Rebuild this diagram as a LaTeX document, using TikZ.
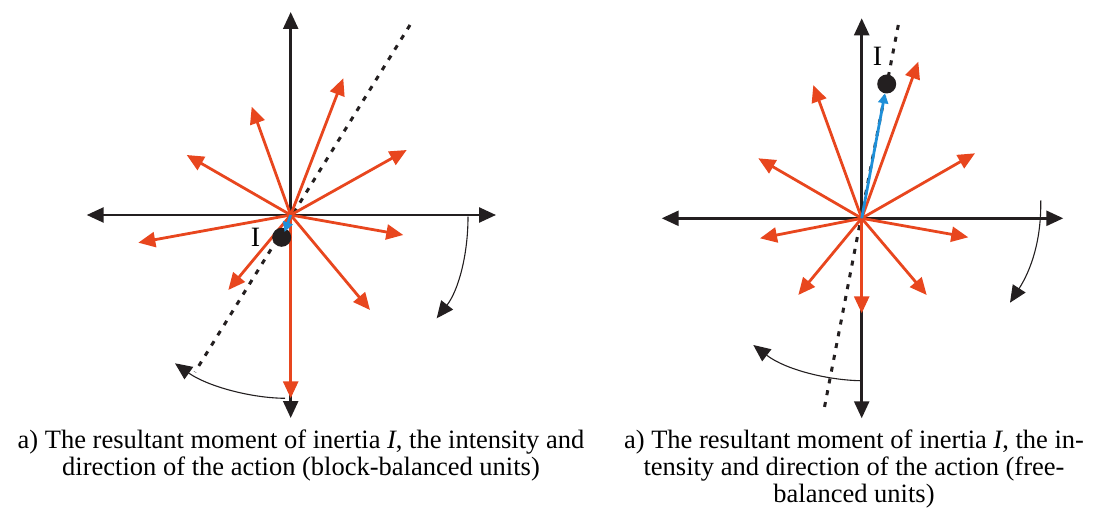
\documentclass[tikz,border=0pt]{standalone}
\usepackage{fontspec}
\setmainfont{Liberation Serif}
\usetikzlibrary{arrows.meta}
\definecolor{ink}{HTML}{231F20}
\definecolor{redv}{HTML}{E8461E}
\definecolor{bluev}{HTML}{1E8FD8}
\tikzset{
  axis/.style={line width=2.5pt,draw=ink,{Triangle[length=17pt,width=15pt]}-{Triangle[length=17pt,width=15pt]}},
  vec/.style={line width=2.8pt,draw=redv,-{Triangle[length=17pt,width=15pt]}},
  res/.style={line width=2.8pt,draw=bluev,-{Triangle[length=10pt,width=10pt]}},
  trace/.style={line width=3pt,draw=ink,dash pattern=on 5pt off 7pt},
  turn/.style={line width=1.1pt,draw=ink,-{Triangle[length=17pt,width=15pt]}},
  mass/.style={circle,fill=ink,inner sep=0pt,minimum size=19pt},
  lbl/.style={font=\fontsize{28}{30}\selectfont,inner sep=0pt},
  caption/.style={font=\fontsize{26.5}{27}\selectfont,align=center,inner sep=0pt}
}
\begin{document}
\begin{tikzpicture}[x=1pt,y=-1pt]
\useasboundingbox (0,0) rectangle (1097,513);
% ---------- left diagram ----------
\coordinate (O1) at (290.7,215);
\coordinate (L1W) at (86.7,215);
\coordinate (L1E) at (496,215);
\coordinate (L1N) at (290.7,12);
\coordinate (L1S) at (290.7,418);
\coordinate (D1a) at (410,25);
\coordinate (D1b) at (195,372);
\coordinate (T1a) at (343.3,78.3);
\coordinate (T1b) at (251.7,106.7);
\coordinate (T1c) at (186.7,155);
\coordinate (T1d) at (406.7,150);
\coordinate (T1e) at (138.3,242.7);
\coordinate (T1f) at (403.3,235);
\coordinate (T1g) at (228.3,290);
\coordinate (T1h) at (370,310);
\coordinate (T1i) at (290.7,398.3);
\draw[trace] (D1a) -- (D1b);
\draw[axis] (L1W) -- (L1E);
\draw[axis] (L1S) -- (L1N);
\draw[vec] (O1) -- (T1a);
\draw[vec] (O1) -- (T1b);
\draw[vec] (O1) -- (T1c);
\draw[vec] (O1) -- (T1d);
\draw[vec] (O1) -- (T1e);
\draw[vec] (O1) -- (T1f);
\draw[vec] (O1) -- (T1g);
\draw[vec] (O1) -- (T1h);
\draw[vec] (O1) -- (T1i);
\coordinate (A1s) at (468,216.7);
\coordinate (A1e) at (436.7,318.3);
\draw[turn] (A1s) .. controls (468,256) and (458,291) .. (A1e);
\coordinate (B1s) at (285,398.3);
\coordinate (B1e) at (175,363.3);
\draw[turn] (B1s) .. controls (250,398) and (207,386) .. (B1e);
\node[mass] (M1) at (281.7,237.3) {};
\coordinate (R1) at (284.5,232);
\draw[res] (O1) -- (R1);
\node[lbl] (I1) at (255.5,237) {I};
% ---------- right diagram ----------
\coordinate (O2) at (861.7,218.3);
\coordinate (L2W) at (661.7,218.3);
\coordinate (L2E) at (1063.3,218.3);
\coordinate (L2N) at (861.7,18.3);
\coordinate (L2S) at (861.7,418.3);
\coordinate (D2a) at (898.3,25);
\coordinate (D2b) at (823.3,413.3);
\coordinate (T2a) at (918.3,61.7);
\coordinate (T2b) at (813.3,85);
\coordinate (T2c) at (758.3,158.3);
\coordinate (T2d) at (975,153.3);
\coordinate (T2e) at (760,238.3);
\coordinate (T2f) at (968.3,237.3);
\coordinate (T2g) at (798.3,295);
\coordinate (T2h) at (926.7,295);
\coordinate (T2i) at (861.7,313.3);
\draw[trace] (D2a) -- (D2b);
\draw[axis] (L2W) -- (L2E);
\draw[axis] (L2S) -- (L2N);
\draw[vec] (O2) -- (T2a);
\draw[vec] (O2) -- (T2b);
\draw[vec] (O2) -- (T2c);
\draw[vec] (O2) -- (T2d);
\draw[vec] (O2) -- (T2e);
\draw[vec] (O2) -- (T2f);
\draw[vec] (O2) -- (T2g);
\draw[vec] (O2) -- (T2h);
\draw[vec] (O2) -- (T2i);
\coordinate (A2s) at (1040.7,200.5);
\coordinate (A2e) at (1010,302.7);
\draw[turn] (A2s) .. controls (1041.5,240) and (1031,270) .. (A2e);
\coordinate (B2s) at (860,380.7);
\coordinate (B2e) at (753.3,345);
\draw[turn] (B2s) .. controls (828,380) and (786,370) .. (B2e);
\node[mass] (M2) at (886.7,84) {};
\coordinate (R2) at (885,93.3);
\draw[res] (O2) -- (R2);
\node[lbl] (I2) at (877.5,56.5) {I};
% ---------- captions ----------
\node[caption] (C1) at (301,455.5) {a) The resultant moment of inertia \textit{I}, the intensity and\\direction of the action (block-balanced units)};
\node[caption] (C2) at (854,469) {a) The resultant moment of inertia \textit{I}, the in-\\tensity and direction of the action (free-\\balanced units)};
\end{tikzpicture}
\end{document}
